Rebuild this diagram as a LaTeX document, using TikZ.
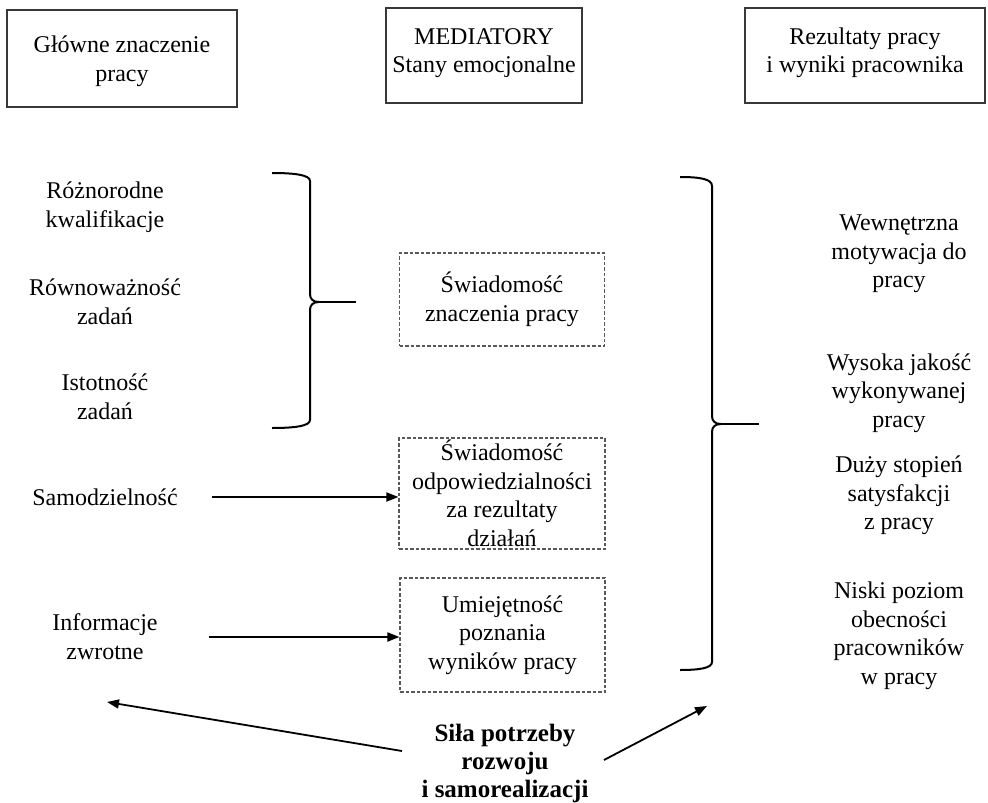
\documentclass[tikz,border=0pt]{standalone}
\usepackage{fontspec}
\setmainfont{Liberation Serif}
\usetikzlibrary{arrows.meta}
\begin{document}
\begin{tikzpicture}[x=1pt,y=-1pt,
  txt/.style={font=\fontsize{24}{28.5}\selectfont, align=center, inner sep=0pt},
  topbox/.style={draw=black!78, line width=1.4pt, inner sep=0pt},
  dbox/.style={txt, draw=black!65, line width=1.1pt, dash pattern=on 3.5pt off 2pt},
  bracepath/.style={line width=2pt},
  arr/.style={line width=1.8pt, -{Triangle[length=12pt,width=9pt]}}]
\useasboundingbox[fill=white] (0,0) rectangle (988,803);

% top boxes
\node[topbox, minimum width=230pt, minimum height=97pt] (t1) at (122,58.5) {};
\node[txt] (t1t) at (122,61) {Główne znaczenie\\pracy};
\node[topbox, minimum width=196pt, minimum height=95pt] (t2) at (484,55.5) {};
\node[txt] (t2t) at (484,53) {MEDIATORY\\Stany emocjonalne};
\node[topbox, minimum width=240pt, minimum height=95pt] (t3) at (865,55.5) {};
\node[txt] (t3t) at (865,53) {Rezultaty pracy\\i wyniki pracownika};

% left column
\node[txt] (rozn) at (105,207) {Różnorodne\\kwalifikacje};
\node[txt] (rown) at (105,302) {Równoważność\\zadań};
\node[txt] (isto) at (105,397) {Istotność\\zadań};
\node[txt] (samo) at (105,497) {Samodzielność};
\node[txt] (info) at (105,636.5) {Informacje\\zwrotne};

% mediators
\node[dbox, minimum width=205pt, minimum height=93pt] (m1) at (502,299.5) {Świadomość\\znaczenia pracy};
\node[dbox, minimum width=206pt, minimum height=111pt] (m2) at (502,493.5) {Świadomość\\odpowiedzialności\\za rezultaty\\działań};
\node[dbox, minimum width=205pt, minimum height=114pt] (m3) at (502.5,635) {Umiejętność\\poznania\\wyników pracy};

% right column
\node[txt] (r1) at (899,254) {Wewnętrzna\\motywacja do\\pracy};
\node[txt] (r2) at (899,393) {Wysoka jakość\\wykonywanej\\pracy};
\node[txt] (r3) at (899,495.5) {Duży stopień\\satysfakcji\\z pracy};
\node[txt] (r4) at (899,636) {Niski poziom\\obecności\\pracowników\\w pracy};

% bottom
\node[txt, font=\fontsize{25}{28}\selectfont\bfseries] (sila) at (505,763) {Siła potrzeby\\rozwoju\\i samorealizacji};

% braces
\draw[bracepath] (272,173) .. controls (295,173) and (310,175) .. (310,181) -- (310,294)
  .. controls (310,299) and (313,302) .. (319,302)
  .. controls (313,302) and (310,305) .. (310,310) -- (310,420)
  .. controls (310,426) and (295,428) .. (272,428);
\draw[bracepath] (319,302) -- (356,302);
\draw[bracepath] (680,177) .. controls (700,177) and (712,179) .. (712,186) -- (712,416)
  .. controls (712,421) and (715,424) .. (721,424)
  .. controls (715,424) and (712,427) .. (712,432) -- (712,662)
  .. controls (712,668) and (700,670) .. (680,670);
\draw[bracepath] (721,424) -- (759,424);

% arrows
\coordinate (samoA) at (212,497);
\coordinate (infoA) at (209,637);
\draw[arr] (samoA) -- (samoA -| m2.west);
\draw[arr] (infoA) -- (infoA -| m3.west);
\coordinate (lt) at (402,751);
\coordinate (lh) at (107,702);
\coordinate (rt) at (604,760);
\coordinate (rh) at (707,706);
\draw[arr] (lt) -- (lh);
\draw[arr] (rt) -- (rh);
\end{tikzpicture}
\end{document}
